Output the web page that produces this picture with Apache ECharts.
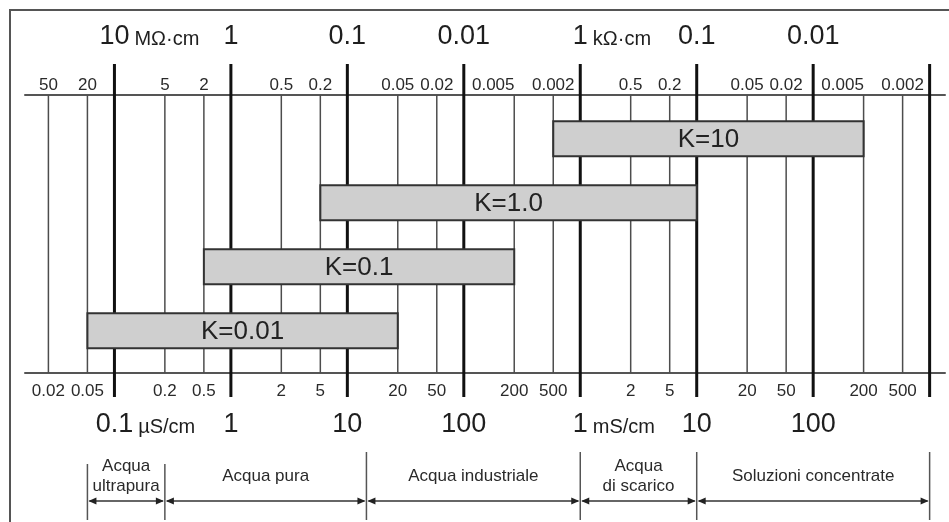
<!DOCTYPE html>
<html><head><meta charset="utf-8">
<script src="https://cdn.jsdelivr.net/npm/echarts@6/dist/echarts.min.js"></script>
<style>html,body{margin:0;padding:0;background:#fff}#c{width:949px;height:522px}</style>
</head><body><div id="c"></div>
<script>
// All conductivity values in µS/cm
const majorTicks = [0.1, 1, 10, 100, 1000, 10000, 100000, 1000000];
const minorTicks = [0.02, 0.05, 0.2, 0.5, 2, 5, 20, 50, 200, 500, 2000, 5000, 20000, 50000, 200000, 500000];
const bottomMinorLabels = ['0.02','0.05','0.2','0.5','2','5','20','50','200','500','2','5','20','50','200','500'];
const topMinorLabels = ['50','20','5','2','0.5','0.2','0.05','0.02','0.005','0.002','0.5','0.2','0.05','0.02','0.005','0.002'];
const bottomMajorLabels = ['0.1','1','10','100','1','10','100',''];
const bottomMajorUnits = ['\u00b5S/cm','','','','mS/cm','','',''];
const topMajorLabels = ['10','1','0.1','0.01','1','0.1','0.01',''];
const topMajorUnits = ['M\u03a9\u00b7cm','','','','k\u03a9\u00b7cm','','',''];
const cellNames = ['K=10','K=1.0','K=0.1','K=0.01'];
const cellMin = [500, 5, 0.5, 0.05];
const cellMax = [200000, 10000, 200, 20];
const regionNames = ['Acqua\nultrapura','Acqua pura','Acqua industriale','Acqua\ndi scarico','Soluzioni concentrate'];
const regionFrom = [0.05, 0.2, 13, 1000, 10000];
const regionTo = [0.2, 13, 1000, 10000, 1000000];

// stylised log scale of the original drawing (2 and 5 marks placed at 0.433 / 0.768 of a decade)
const LOG_ANCHORS = [0, Math.log10(2), Math.log10(5), 1];
const POS_ANCHORS = [0, 0.433, 0.768, 1];
function warp(v){
  const l = Math.log10(v);
  const e = Math.floor(l + 1e-9);
  let f = l - e; if (f < 0) f = 0;
  for (let i = 0; i < 3; i++) {
    if (f <= LOG_ANCHORS[i+1] + 1e-9) {
      const t = (f - LOG_ANCHORS[i]) / (LOG_ANCHORS[i+1] - LOG_ANCHORS[i]);
      return e + POS_ANCHORS[i] + t * (POS_ANCHORS[i+1] - POS_ANCHORS[i]);
    }
  }
  return e + 1;
}
const X_MIN = -1.768, X_MAX = 6.132;
const FONT = "'Liberation Sans', Arial, Helvetica, sans-serif";
const majorPos = majorTicks.map(warp);
const minorPos = minorTicks.map(warp);

function labelAt(positions, labels, shifted){
  return function(v){
    let best = -1, bd = 1e9;
    positions.forEach((p, i) => { const d = Math.abs(p - v); if (d < bd) { bd = d; best = i; } });
    if (bd > 1e-6) return '';
    const t = labels[best];
    return (shifted && t === '0.005') ? '{s|' + t + '}' : '{n|' + t + '}';
  };
}
const SMALL_RICH = {
  n: {fontSize:17, fontFamily:FONT, color:'#2a2a2a'},
  s: {fontSize:17, fontFamily:FONT, color:'#2a2a2a', padding:[0, 42, 0, 0]}
};

const mctx = document.createElement('canvas').getContext('2d');
function textW(t, size){ mctx.font = size + 'px ' + FONT; return mctx.measureText(t).width; }

const NUM_SIZE = 27, UNIT_SIZE = 20;
function addBig(children, x, y, num, unit){
  if (!num) return;
  children.push({type:'text', style:{text:num, x:x, y:y, textAlign:'center', textVerticalAlign:'middle', font: NUM_SIZE + 'px ' + FONT, fill:'#1e1e1e'}});
  if (unit) {
    const w = textW(num, NUM_SIZE);
    children.push({type:'text', style:{text:unit, x:x + w/2 + 5, y:y + 2.5, textAlign:'left', textVerticalAlign:'middle', font: UNIT_SIZE + 'px ' + FONT, fill:'#1e1e1e'}});
  }
}

const chart = echarts.init(document.getElementById('c'));
const option = {
  animation: false,
  backgroundColor: '#fff',
  graphic: [{type:'polyline', shape:{points:[[10,522],[10,10],[949,10]]}, style:{stroke:'#555', lineWidth:2, fill:null}, silent:true}],
  grid: [
    {left:25, right:4, top:95, bottom:149},
    {left:25, right:4, top:106.65, height:256}
  ],
  xAxis: [
    {type:'value', gridIndex:0, position:'bottom', min:X_MIN, max:X_MAX,
     axisLine:{show:true, lineStyle:{color:'#555', width:2}}, axisTick:{show:false}, splitLine:{show:false},
     axisLabel:{customValues:minorPos, formatter:labelAt(minorPos, bottomMinorLabels, false), rich:SMALL_RICH,
                showMinLabel:true, showMaxLabel:true, hideOverlap:false, margin:10, fontSize:17, fontFamily:FONT, color:'#2a2a2a'}},
    {type:'value', gridIndex:0, position:'top', min:X_MIN, max:X_MAX,
     axisLine:{show:true, lineStyle:{color:'#555', width:2}}, axisTick:{show:false}, splitLine:{show:false},
     axisLabel:{customValues:minorPos, formatter:labelAt(minorPos, topMinorLabels, true), rich:SMALL_RICH,
                showMinLabel:true, showMaxLabel:true, hideOverlap:false, margin:1, fontSize:17, fontFamily:FONT, color:'#2a2a2a'}},
    {type:'value', gridIndex:1, min:X_MIN, max:X_MAX, show:false}
  ],
  yAxis: [
    {type:'value', gridIndex:0, min:0, max:1, show:false},
    {type:'category', gridIndex:1, data:cellNames, inverse:true, show:false}
  ],
  series: [
    { // vertical grid lines
      type:'custom', xAxisIndex:0, yAxisIndex:0, z:2, silent:true,
      data: majorPos.map(p => [p, 1]).concat(minorPos.map(p => [p, 0])),
      renderItem: function(params, api){
        const cs = params.coordSys;
        const x = api.coord([api.value(0), 0])[0];
        const major = api.value(1) === 1;
        return {type:'line',
          shape:{x1:x, y1: major ? cs.y - 31 : cs.y, x2:x, y2: major ? cs.y + cs.height + 24 : cs.y + cs.height},
          style:{stroke: major ? '#111' : '#4d4d4d', lineWidth: major ? 3 : 1.5}};
      }
    },
    { // big decade labels
      type:'custom', xAxisIndex:0, yAxisIndex:0, z:2, silent:true,
      data: majorPos.map((p, i) => [p, i]),
      renderItem: function(params, api){
        const cs = params.coordSys;
        const i = api.value(1);
        const x = api.coord([api.value(0), 0])[0];
        const children = [];
        addBig(children, x, cs.y - 58, topMajorLabels[i], topMajorUnits[i]);
        addBig(children, x, cs.y + cs.height + 52, bottomMajorLabels[i], bottomMajorUnits[i]);
        return {type:'group', children:children};
      }
    },
    { // cell constant ranges
      type:'custom', xAxisIndex:2, yAxisIndex:1, z:5, silent:true,
      encode:{x:[0,1], y:2},
      data: cellNames.map((n, i) => [warp(cellMin[i]), warp(cellMax[i]), i]),
      renderItem: function(params, api){
        const i = api.value(2);
        const a = api.coord([api.value(0), i]);
        const b = api.coord([api.value(1), i]);
        const h = api.size([0, 1])[1] * 0.547;
        return {type:'group', children:[
          {type:'rect', shape:{x:a[0], y:a[1] - h/2, width:b[0] - a[0], height:h}, style:{fill:'#cfcfcf', stroke:'#333', lineWidth:2}},
          {type:'text', style:{text:cellNames[i], x:(a[0] + b[0]) / 2, y:a[1] + 1, textAlign:'center', textVerticalAlign:'middle', font:'26px ' + FONT, fill:'#222'}}
        ]};
      }
    },
    { // application regions with arrows
      type:'custom', xAxisIndex:0, yAxisIndex:0, z:2, silent:true,
      data: regionNames.map((n, i) => [warp(regionFrom[i]), warp(regionTo[i]), i]),
      renderItem: function(params, api){
        const cs = params.coordSys;
        const i = api.value(2);
        const x1 = api.coord([api.value(0), 0])[0];
        const x2 = api.coord([api.value(1), 0])[0];
        const base = cs.y + cs.height;
        const ay = base + 128;
        const ch = [];
        const sepTop = (k) => base + (k <= 1 ? 91 : 79);
        ch.push({type:'line', shape:{x1:x1, y1:sepTop(i), x2:x1, y2:base + 147}, style:{stroke:'#555', lineWidth:1.5}});
        if (i === regionNames.length - 1)
          ch.push({type:'line', shape:{x1:x2, y1:sepTop(i + 1), x2:x2, y2:base + 147}, style:{stroke:'#555', lineWidth:1.5}});
        ch.push({type:'line', shape:{x1:x1 + 2, y1:ay, x2:x2 - 2, y2:ay}, style:{stroke:'#333', lineWidth:1.5}});
        ch.push({type:'polygon', shape:{points:[[x1 + 1, ay], [x1 + 9, ay - 3.5], [x1 + 9, ay + 3.5]]}, style:{fill:'#222'}});
        ch.push({type:'polygon', shape:{points:[[x2 - 1, ay], [x2 - 9, ay - 3.5], [x2 - 9, ay + 3.5]]}, style:{fill:'#222'}});
        ch.push({type:'text', style:{text:regionNames[i], x:(x1 + x2) / 2, y:base + 103, textAlign:'center', textVerticalAlign:'middle', font:'17px ' + FONT, lineHeight:20, fill:'#2a2a2a'}});
        return {type:'group', children:ch};
      }
    }
  ]
};
chart.setOption(option);
</script>
</body></html>
